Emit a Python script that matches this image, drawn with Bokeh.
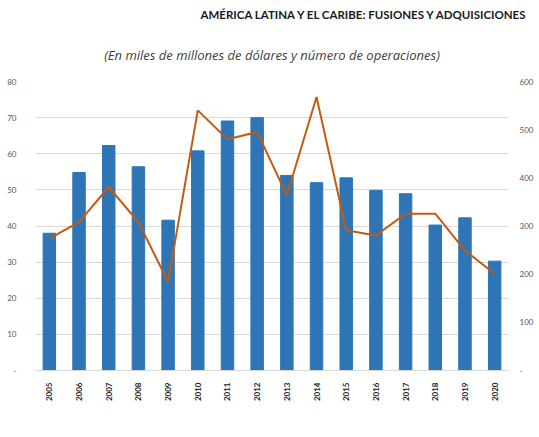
import math
from bokeh.plotting import figure
from bokeh.models import (Range1d, LinearAxis, FixedTicker, Legend, LegendItem, Title)
from bokeh.embed import file_html
from bokeh.resources import INLINE

# ---- data ----
years = [2005, 2006, 2007, 2008, 2009, 2010, 2011, 2012,
         2013, 2014, 2015, 2016, 2017, 2018, 2019, 2020]
operaciones = [285, 411, 467, 423, 312, 456, 518, 525,
               405, 390, 400, 374, 367, 302, 317, 227]
monto = [36.5, 41.1, 50.8, 41.1, 24.5, 72.0, 64.0, 66.0,
         48.5, 75.7, 38.8, 37.4, 43.4, 43.4, 33.2, 26.8]
left_ticks = [0, 10, 20, 30, 40, 50, 60, 70, 80]
right_ticks = [0, 100, 200, 300, 400, 500, 600]
title_text = "AMÉRICA LATINA Y EL CARIBE: FUSIONES Y ADQUISICIONES"
subtitle_text = "(En miles de millones de dólares y número de operaciones)"
legend_bars = "Número de operaciones (eje derecho)"
legend_line = "Monto"

# ---- layout ----
FW, FH = 475, 289
BL, BR = 34, 22
FONT = "Lato"
FONT2 = "Open Sans"
BLUE = "#2E75B6"
ORANGE = "#C55A11"

p = figure(frame_width=FW, frame_height=FH, output_backend="svg",
           toolbar_location=None,
           x_range=Range1d(2004.5, 2020.5), y_range=Range1d(0, 80),
           min_border_left=BL, min_border_right=BR,
           min_border_top=0, min_border_bottom=0)
p.extra_y_ranges = {"ops": Range1d(0, 600)}
p.outline_line_color = None
p.background_fill_color = "white"
p.border_fill_color = "white"

bars = p.vbar(x=years, top=operaciones, width=0.42, color=BLUE,
              y_range_name="ops")
line = p.line(x=years, y=monto, color=ORANGE, line_width=2)

# axes
p.xaxis.ticker = FixedTicker(ticks=years)
p.xaxis.major_label_orientation = math.pi / 2
p.xaxis.major_label_text_font = FONT
p.xaxis.major_label_text_font_size = "8px"
p.xaxis.major_label_text_font_style = "bold"
p.xaxis.major_label_text_color = "#222222"
p.xaxis.axis_line_color = "#D9D9D9"
p.xaxis.major_tick_line_color = None
p.xaxis.minor_tick_line_color = None
p.xaxis.major_label_standoff = 6

p.yaxis.ticker = FixedTicker(ticks=left_ticks)
p.yaxis.major_label_overrides = {0: "-"}
p.yaxis.axis_line_color = None
p.yaxis.major_tick_line_color = None
p.yaxis.minor_tick_line_color = None
p.yaxis.major_label_text_font = FONT
p.yaxis.major_label_text_font_size = "8px"
p.yaxis.major_label_text_color = "#595959"
p.yaxis.major_label_standoff = 12

ax2 = LinearAxis(y_range_name="ops", ticker=FixedTicker(ticks=right_ticks))
ax2.major_label_overrides = {0: "-"}
ax2.axis_line_color = None
ax2.major_tick_line_color = None
ax2.minor_tick_line_color = None
ax2.major_label_text_font = FONT
ax2.major_label_text_font_size = "8px"
ax2.major_label_text_color = "#595959"
ax2.major_label_standoff = 4
p.add_layout(ax2, "right")

p.xgrid.grid_line_color = None
p.ygrid.grid_line_color = "#D9D9D9"
p.ygrid.grid_line_width = 1

# titles (subtitle first = closest to the frame)
p.add_layout(Title(text=subtitle_text, align="center",
                   text_font=FONT2, text_font_size="13px",
                   text_font_style="italic", text_color="#404040",
                   standoff=35), "above")
p.add_layout(Title(text=title_text, align="left", offset=166,
                   text_font=FONT, text_font_size="11.5px",
                   text_font_style="bold", text_color="#1a1a1a",
                   standoff=11), "above")

# legend below the axis
legend = Legend(items=[LegendItem(label=legend_bars, renderers=[bars]),
                       LegendItem(label=legend_line, renderers=[line])],
                orientation="horizontal", location="top_center",
                padding=0, margin=10, spacing=51,
                glyph_width=25, glyph_height=7, label_height=14,
                label_standoff=2,
                label_text_font=FONT2, label_text_font_size="13px",
                label_text_color="#333333",
                border_line_color=None, background_fill_alpha=0)
p.add_layout(legend, "below")

open("out.html", "w").write(file_html(p, INLINE))
